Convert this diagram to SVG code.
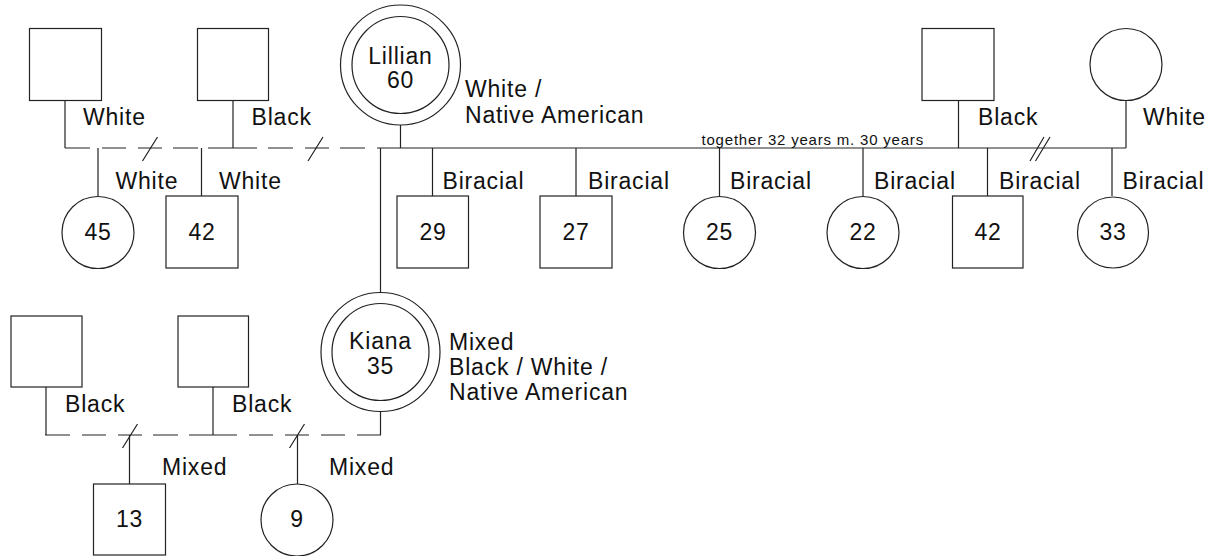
<svg xmlns="http://www.w3.org/2000/svg" width="1211" height="556" viewBox="0 0 1211 556">
  <style>
    .shape { fill: #ffffff; stroke: #222222; stroke-width: 1.2; }
    .link { fill: none; stroke: #222222; stroke-width: 1.2; }
    text { font-family: "Liberation Sans", Arial, sans-serif; fill: #111111; }
    .lbl { font-size: 23px; letter-spacing: 0.8px; }
    .age { font-size: 23px; letter-spacing: 0.8px; text-anchor: middle; }
    .note { font-size: 15px; letter-spacing: 0.8px; }
  </style>
  <rect width="1211" height="556" fill="#ffffff"/>

  <!-- connectors -->
  <g id="connectors">
    <!-- left partnerships (dashed) -->
    <path class="link" d="M65,100 V148 M65,148 H90 M102,148 H126 M138,148 H162 M173,148 H198 M208,148 H257 M268,148 H293 M305,148 H329 M340,148 H365 M233,100 V148"/>
    <path class="link" d="M142.5,161 L157.5,137 M308,161 L323,137"/>
    <path class="link" d="M98,148 V196 M201.5,148 V196"/>
    <!-- main line from Lillian to the right -->
    <path class="link" d="M377,148 H1126 M400.5,125 V148 M958.5,100 V148 M1126,100 V148"/>
    <path class="link" d="M1030,161 L1044,137 M1035.5,161 L1050,137"/>
    <path class="link" d="M432.5,148 V196 M576,148 V196 M719.5,148 V196 M863,148 V196 M987.5,148 V196 M1112,148 V196"/>
    <!-- Lillian to Kiana -->
    <path class="link" d="M380.5,148 V292.5"/>
    <!-- bottom partnerships (dashed) -->
    <path class="link" d="M46,387 V435 M45,435 H70 M82,435 H106 M118,435 H142 M153,435 H178 M189,435 H237 M249,435 H273 M285,435 H309 M321,435 H345 M357,435 H380.5 V411.5 M213,387 V435"/>
    <path class="link" d="M122.5,448 L137.5,424 M289.5,448 L304.5,424"/>
    <path class="link" d="M129.5,435 V484 M297.5,435 V484"/>
  </g>

  <!-- first generation -->
  <g id="p1"><rect class="shape" x="29.5" y="28.5" width="72" height="72"/></g>
  <g id="p2"><rect class="shape" x="197.5" y="28.5" width="71" height="72"/></g>
  <g id="lillian">
    <circle class="shape" cx="400.5" cy="65" r="60"/>
    <circle class="shape" cx="400.5" cy="65" r="48.5"/>
    <text class="age" x="400.5" y="63.5">Lillian</text>
    <text class="age" x="400.5" y="87.5">60</text>
  </g>
  <g id="p3"><rect class="shape" x="922" y="28.5" width="72" height="72"/></g>
  <g id="p4"><circle class="shape" cx="1126" cy="64.5" r="36"/></g>

  <!-- children of Lillian -->
  <g id="c45"><circle class="shape" cx="98" cy="232.5" r="36"/><text class="age" x="98" y="240">45</text></g>
  <g id="c42a"><rect class="shape" x="166" y="196" width="72" height="72"/><text class="age" x="202" y="240">42</text></g>
  <g id="c29"><rect class="shape" x="397" y="196" width="71.5" height="72"/><text class="age" x="433" y="240">29</text></g>
  <g id="c27"><rect class="shape" x="540" y="196" width="72" height="72"/><text class="age" x="576" y="240">27</text></g>
  <g id="c25"><circle class="shape" cx="719.5" cy="232.5" r="36"/><text class="age" x="719.5" y="240">25</text></g>
  <g id="c22"><circle class="shape" cx="863" cy="232.5" r="36"/><text class="age" x="863" y="240">22</text></g>
  <g id="c42b"><rect class="shape" x="952.5" y="196" width="70.5" height="72"/><text class="age" x="988" y="240">42</text></g>
  <g id="c33"><circle class="shape" cx="1113" cy="232.5" r="35.5"/><text class="age" x="1113" y="240">33</text></g>

  <!-- Kiana and her family -->
  <g id="kiana">
    <circle class="shape" cx="380.5" cy="352" r="59.5"/>
    <circle class="shape" cx="380.5" cy="352" r="48.5"/>
    <text class="age" x="380.5" y="349">Kiana</text>
    <text class="age" x="380.5" y="374">35</text>
  </g>
  <g id="p5"><rect class="shape" x="11" y="316" width="71" height="71"/></g>
  <g id="p6"><rect class="shape" x="178" y="316" width="70.5" height="71"/></g>
  <g id="c13"><rect class="shape" x="93.5" y="484" width="72" height="71"/><text class="age" x="129.5" y="527">13</text></g>
  <g id="c9"><circle class="shape" cx="297" cy="520" r="36"/><text class="age" x="297" y="527">9</text></g>

  <!-- labels -->
  <g id="labels">
    <text class="lbl" x="83" y="125">White</text>
    <text class="lbl" x="251.5" y="125">Black</text>
    <text class="lbl" x="115.5" y="189">White</text>
    <text class="lbl" x="219" y="189">White</text>
    <text class="lbl" x="465" y="97">White /</text>
    <text class="lbl" x="465" y="123">Native American</text>
    <text class="note" x="701.5" y="144.5">together 32 years m. 30 years</text>
    <text class="lbl" x="978" y="125">Black</text>
    <text class="lbl" x="1143" y="125">White</text>
    <text class="lbl" x="442.5" y="188.5">Biracial</text>
    <text class="lbl" x="588" y="188.5">Biracial</text>
    <text class="lbl" x="730" y="188.5">Biracial</text>
    <text class="lbl" x="874" y="188.5">Biracial</text>
    <text class="lbl" x="999" y="188.5">Biracial</text>
    <text class="lbl" x="1122.5" y="188.5">Biracial</text>
    <text class="lbl" x="449" y="350">Mixed</text>
    <text class="lbl" x="449" y="375">Black / White /</text>
    <text class="lbl" x="449" y="400">Native American</text>
    <text class="lbl" x="65" y="412">Black</text>
    <text class="lbl" x="232" y="412">Black</text>
    <text class="lbl" x="162" y="475">Mixed</text>
    <text class="lbl" x="329" y="475">Mixed</text>
  </g>
</svg>
